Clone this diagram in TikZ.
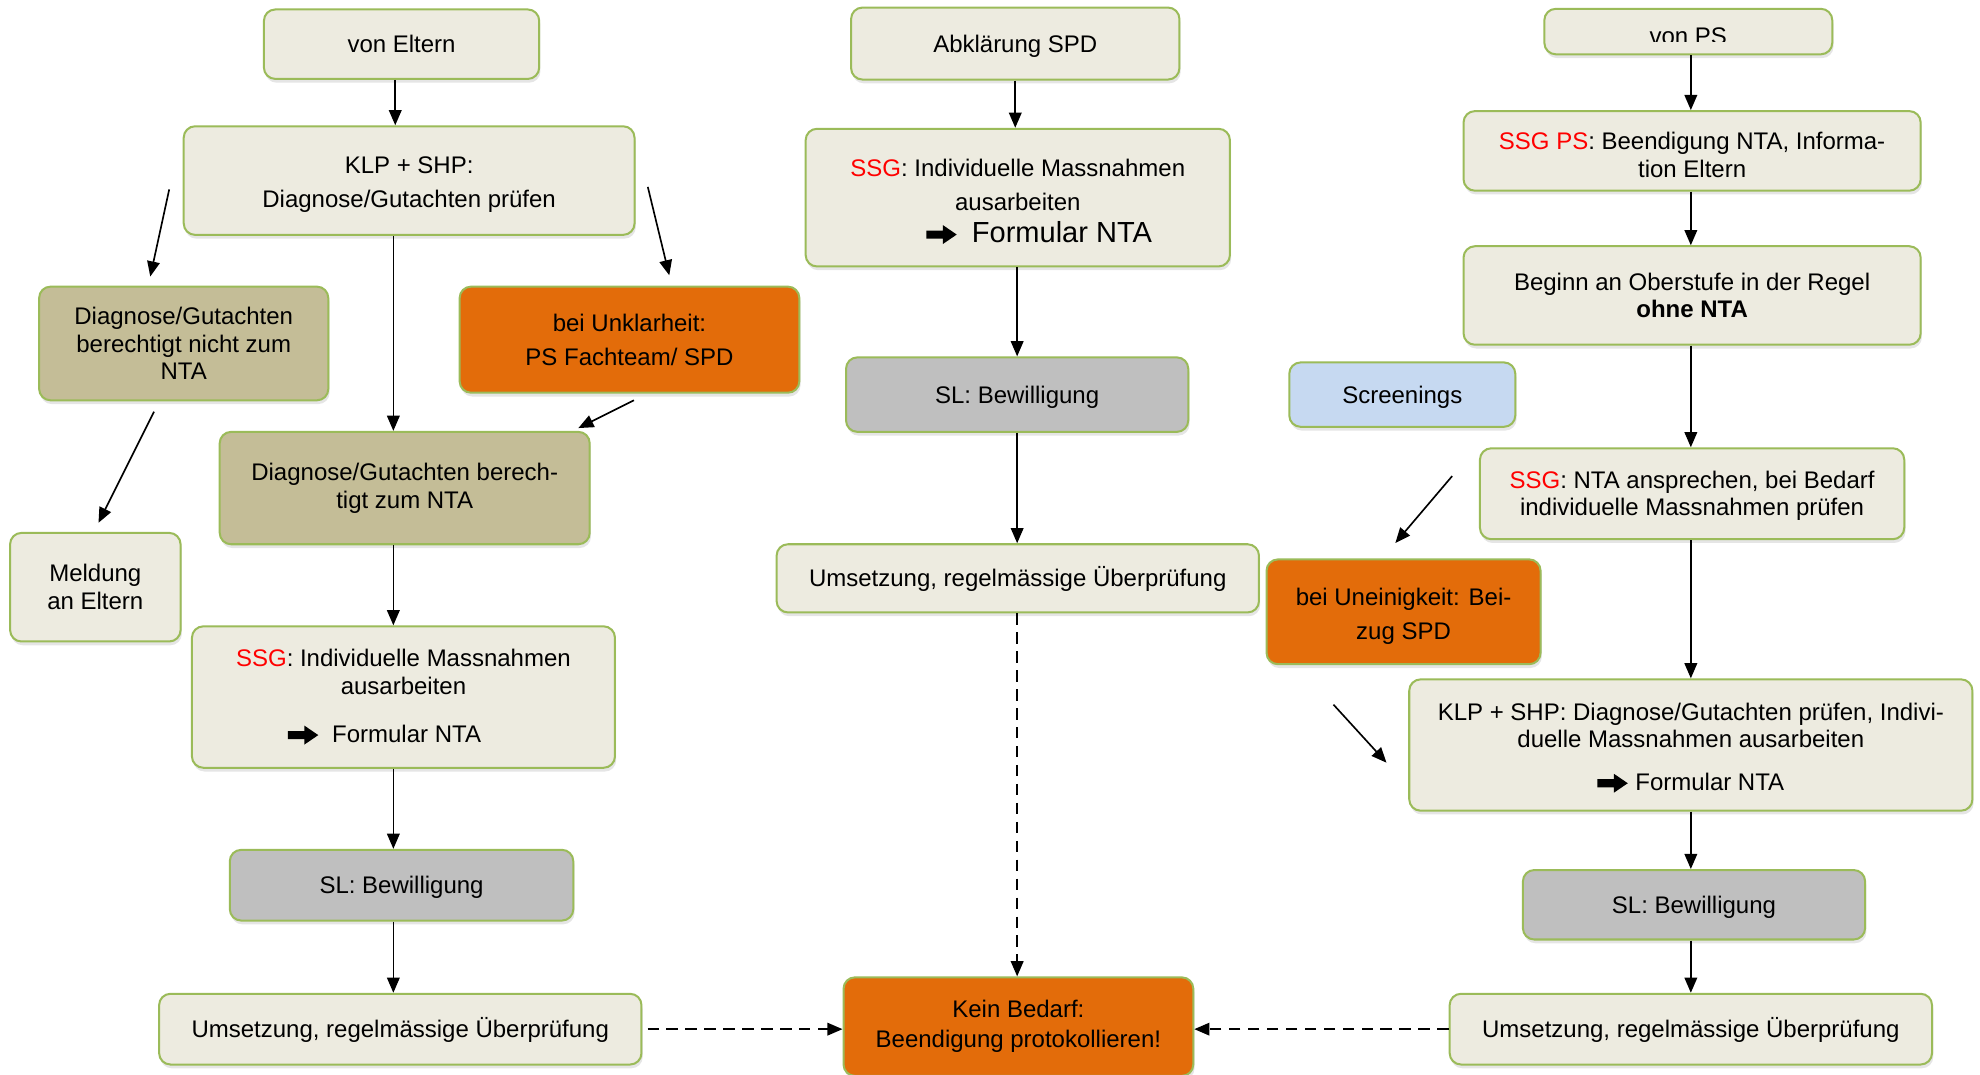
\documentclass[tikz,border=0pt]{standalone}
\usepackage{fontspec}
\setmainfont{Liberation Sans}
\usetikzlibrary{shadows,arrows.meta}
\definecolor{cream}{RGB}{237,235,224}
\definecolor{bgreen}{RGB}{155,187,89}
\definecolor{tanc}{RGB}{196,189,151}
\definecolor{orng}{RGB}{227,108,10}
\definecolor{gry}{RGB}{191,191,191}
\definecolor{lblue}{RGB}{198,217,241}
\definecolor{ssgred}{RGB}{255,0,0}
\newcommand\fs{\fontsize{19}{22}\selectfont}
\newcommand\fatarr{\tikz[baseline=-6pt, sharp corners]{\fill[black, draw=none]
  (0pt,-3.2pt) -- (13pt,-3.2pt) -- (13pt,-7.5pt) -- (24pt,0pt) -- (13pt,7.5pt)
  -- (13pt,3.2pt) -- (0pt,3.2pt) -- cycle;}}
\newcommand\up[1]{\rule{0pt}{#1}}
\tikzset{
  base/.style={draw=bgreen, line width=1.6pt, rounded corners=9pt, align=center,
    inner sep=0pt, font=\fs,
    drop shadow={shadow xshift=1pt, shadow yshift=-3pt, opacity=0.2}},
  one/.style={text height=13.6pt, text depth=0pt},
  cbox/.style={base, fill=cream},
  tbox/.style={base, fill=tanc},
  obox/.style={base, fill=orng},
  gbox/.style={base, fill=gry},
  bbox/.style={base, fill=lblue},
  arr/.style={line width=1.3pt, -{Triangle[length=12pt,width=10pt]}},
  darr/.style={arr, dash pattern=on 9pt off 6pt},
}
\begin{document}
\begin{tikzpicture}[x=1pt,y=-1pt]
\useasboundingbox (0,0) rectangle (1568,851);
\fill[white] (0,0) rectangle (1568,851);

% column coordinates
\coordinate (xa) at (313,0);
\coordinate (xb) at (311.5,0);
\coordinate (xm) at (805.5,0);
\coordinate (xr) at (1339,0);

% ---------- left column ----------
\node[cbox, one, minimum width=218pt, minimum height=55pt] (vonEltern) at (318,35) {von Eltern};
\node[cbox, minimum width=357pt, minimum height=86pt] (klp1) at (324,143)
  {\up{20pt}KLP + SHP:\\[5pt]Diagnose/Gutachten prüfen};
\node[tbox, minimum width=229pt, minimum height=90pt] (nicht) at (145.5,272)
  {Diagnose/Gutachten\\berechtigt nicht zum\\NTA};
\node[obox, minimum width=269pt, minimum height=84pt] (unklar) at (498.5,269)
  {bei Unklarheit:\\[5pt]PS Fachteam/ SPD};
\node[tbox, minimum width=293pt, minimum height=89pt] (berecht) at (320.5,386.5)
  {Diagnose/Gutachten berech-\\tigt zum NTA};
\node[cbox, minimum width=135pt, minimum height=86pt] (meldung) at (75.5,465)
  {Meldung\\an Eltern};
\node[cbox, minimum width=335pt, minimum height=112pt] (ssg1) at (319.5,552)
  {\textcolor{ssgred}{SSG}: Individuelle Massnahmen\\ausarbeiten\\[16pt]\fatarr\hspace{11pt}Formular NTA\hbox to 30pt{}};
\node[gbox, one, minimum width=272pt, minimum height=56pt] (sl1) at (318,701) {SL: Bewilligung};
\node[cbox, one, minimum width=382pt, minimum height=56pt] (ums1) at (317,815)
  {Umsetzung, regelmässige Überprüfung};

% ---------- middle column ----------
\node[cbox, one, minimum width=260pt, minimum height=57pt] (abkl) at (804,34.5) {Abklärung SPD};
\node[cbox, minimum width=336pt, minimum height=109pt] (ssg2) at (806,156.5)
  {\up{20pt}\textcolor{ssgred}{SSG}: Individuelle Massnahmen\\[5pt]ausarbeiten\\[3pt]
   {\fontsize{23}{22}\selectfont\hspace{34pt}\fatarr\hspace{12pt}Formular NTA}};
\node[gbox, one, minimum width=271pt, minimum height=59pt] (sl2) at (805.5,312.5) {SL: Bewilligung};
\node[cbox, one, minimum width=382pt, minimum height=54pt] (ums2) at (806,458)
  {Umsetzung, regelmässige Überprüfung};
\node[obox, minimum width=277pt, minimum height=78pt] (kein) at (806.5,813)
  {Kein Bedarf:\\[2pt]Beendigung protokollieren!};

% ---------- right column ----------
\node[cbox, minimum width=228pt, minimum height=36pt] (vonPS) at (1337,25) {};
\begin{scope}
  \clip (1223,7) rectangle (1451,33);
  \node[font=\fs, inner sep=0pt, anchor=base] (vonPStext) at (1337,35.5) {von PS};
\end{scope}
\node[cbox, minimum width=362pt, minimum height=63pt] (ssgps) at (1340,119.5)
  {\up{20pt}\textcolor{ssgred}{SSG PS}: Beendigung NTA, Informa-\\tion Eltern};
\node[cbox, minimum width=362pt, minimum height=78pt] (beginn) at (1340,234)
  {Beginn an Oberstufe in der Regel\\\textbf{ohne NTA}};
\node[bbox, one, minimum width=179pt, minimum height=51pt] (screen) at (1110.5,312.5) {Screenings};
\node[cbox, minimum width=336pt, minimum height=72pt] (ssg3) at (1340,391)
  {\up{17pt}\textcolor{ssgred}{SSG}: NTA ansprechen, bei Bedarf\\individuelle Massnahmen prüfen};
\node[obox, minimum width=217pt, minimum height=83pt] (uneinig) at (1111.5,484.5)
  {\up{21pt}bei Uneinigkeit: Bei-\\[5pt]zug SPD};
\node[cbox, minimum width=446pt, minimum height=104pt] (klp3) at (1339,590)
  {\up{18pt}KLP + SHP: Diagnose/Gutachten prüfen, Indivi-\\duelle Massnahmen ausarbeiten\\[12pt]\fatarr\hspace{6pt}Formular NTA};
\node[gbox, one, minimum width=271pt, minimum height=55pt] (sl3) at (1341.5,716.5) {SL: Bewilligung};
\node[cbox, one, minimum width=382pt, minimum height=56pt] (ums3) at (1339,815)
  {Umsetzung, regelmässige Überprüfung};

% ---------- connectors ----------
\draw[arr] (vonEltern.south -| xa) -- (klp1.north -| xa);
\draw[arr] (klp1.south -| xb) -- (berecht.north -| xb);
\draw[arr] (berecht.south -| xb) -- (ssg1.north -| xb);
\draw[arr] (ssg1.south -| xb) -- (sl1.north -| xb);
\draw[arr] (sl1.south -| xb) -- (ums1.north -| xb);
\draw[darr, shorten <=4pt] (ums1.east) -- (ums1.east -| kein.west);

\draw[arr] (abkl.south) -- (abkl.south |- ssg2.north);
\draw[arr] (ssg2.south -| xm) -- (sl2.north -| xm);
\draw[arr] (sl2.south -| xm) -- (ums2.north -| xm);
\draw[darr] (ums2.south -| xm) -- (kein.north -| xm);

\draw[arr] (vonPS.south -| xr) -- (ssgps.north -| xr);
\draw[arr] (ssgps.south -| xr) -- (beginn.north -| xr);
\draw[arr] (beginn.south -| xr) -- (ssg3.north -| xr);
\draw[arr] (ssg3.south -| xr) -- (klp3.north -| xr);
\draw[arr] (klp3.south -| xr) -- (sl3.north -| xr);
\draw[arr] (sl3.south -| xr) -- (ums3.north -| xr);
\draw[darr] (ums3.west) -- (ums3.west -| kein.east);

% free arrows
\coordinate (f1s) at (134,150); \coordinate (f1e) at (119,219);
\coordinate (f2s) at (513,148); \coordinate (f2e) at (530,218);
\coordinate (f3s) at (502,317); \coordinate (f3e) at (458,339);
\coordinate (f4s) at (122,326); \coordinate (f4e) at (78,414);
\coordinate (f5s) at (1150,377); \coordinate (f5e) at (1105,430);
\coordinate (f6s) at (1056,558); \coordinate (f6e) at (1098,604);
\draw[arr] (f1s) -- (f1e);
\draw[arr] (f2s) -- (f2e);
\draw[arr] (f3s) -- (f3e);
\draw[arr] (f4s) -- (f4e);
\draw[arr] (f5s) -- (f5e);
\draw[arr] (f6s) -- (f6e);
\end{tikzpicture}
\end{document}
